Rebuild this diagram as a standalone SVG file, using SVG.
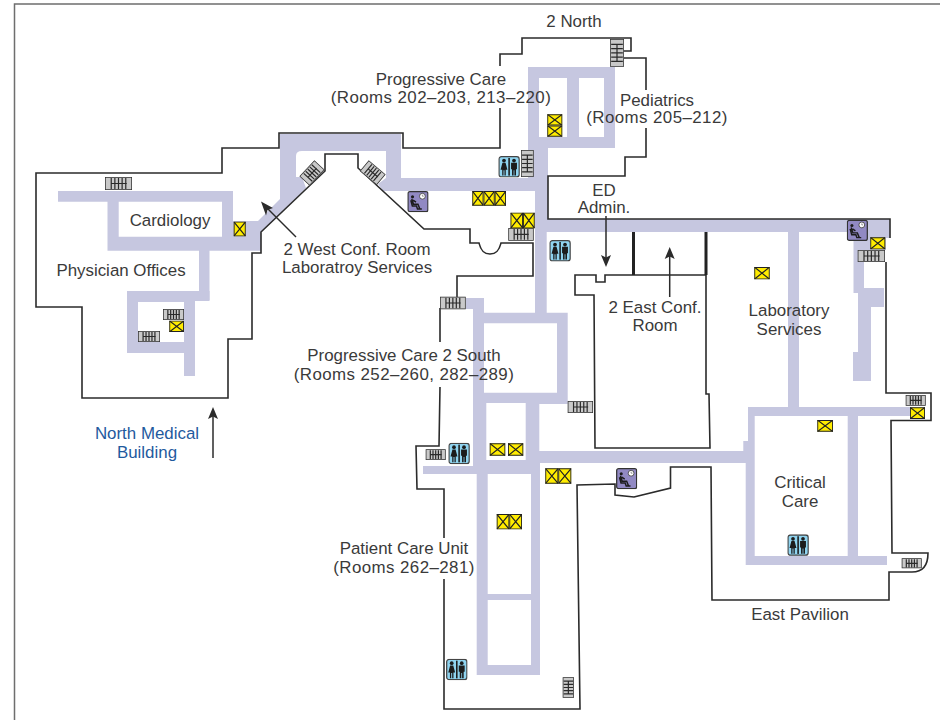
<svg xmlns="http://www.w3.org/2000/svg" width="940" height="720" viewBox="0 0 940 720">
<style>
.hall{fill:#c6c7e0;stroke:none}
.wall{fill:none;stroke:#2b2b2b;stroke-width:1.6}
.thick{fill:none;stroke:#222;stroke-width:3}
.frame{fill:none;stroke:#6e6e6e;stroke-width:1.5}
.arr{fill:none;stroke:#2b2b2b;stroke-width:1.5}
.head{fill:#2b2b2b}
text{font-family:"Liberation Sans",Arial,sans-serif;font-size:16.9px;fill:#3a3a3a;text-anchor:middle}
text.blue{fill:#1f5a9e}
text.rooms{letter-spacing:0.42px}
.sf{fill:#c9c9c9;stroke:#333;stroke-width:1.5;vector-effect:non-scaling-stroke}
.sl{fill:none;stroke:#2a2a2a;stroke-width:1.2;vector-effect:non-scaling-stroke}
.ef{fill:#ffec00;stroke:#222;stroke-width:1.8;vector-effect:non-scaling-stroke}
.ex{fill:none;stroke:#222;stroke-width:1.2;vector-effect:non-scaling-stroke}
.rf{fill:#8fd4f0;stroke:#444;stroke-width:1.3}
.wf{fill:#9189c3;stroke:#333;stroke-width:1.3}
.fig{fill:#1c1c1c;stroke:none}
.chair{fill:none;stroke:#1c1c1c;stroke-width:1.5}
</style>
<defs>
<symbol id="stairH" viewBox="0 0 26 12" preserveAspectRatio="none">
<rect class="sf" x="0" y="0" width="26" height="12"/>
<path class="sl" d="M6,6H21M6,1V11M9.5,1V11M13,1V11M16.5,1V11M20,1V11"/>
</symbol>
<symbol id="stairV" viewBox="0 0 12 26" preserveAspectRatio="none">
<rect class="sf" x="0" y="0" width="12" height="26"/>
<path class="sl" d="M6,5V21M1,5H11M1,9H11M1,13H11M1,17H11M1,21H11"/>
</symbol>
<symbol id="elev" viewBox="0 0 12 12" preserveAspectRatio="none">
<rect class="ef" x="0" y="0" width="12" height="12"/>
<path class="ex" d="M0,0L12,12M12,0L0,12"/>
</symbol>
<symbol id="rest" viewBox="0 0 22 22">
<rect class="rf" x="0.7" y="0.7" width="20.6" height="20.6" rx="2.5"/>
<rect class="fig" x="10.2" y="2" width="1.6" height="18"/>
<circle class="fig" cx="5.8" cy="4.6" r="1.9"/>
<path class="fig" d="M4.2,6.8H7.4L9.3,14H7.6V19.8H6.3V14.5H5.3V19.8H4V14H2.3Z"/>
<circle class="fig" cx="16" cy="4.6" r="1.9"/>
<path class="fig" d="M13,6.8H19V13.4H18V19.8H16.4V14.5H15.6V19.8H14V13.4H13Z"/>
</symbol>
<symbol id="wait" viewBox="0 0 22 22">
<rect class="wf" x="0.7" y="0.7" width="20.6" height="20.6" rx="2"/>
<circle cx="15.6" cy="5.4" r="3" fill="#fff" stroke="#333" stroke-width="0.8"/>
<path d="M15.6,3.8V5.4H17" fill="none" stroke="#333" stroke-width="0.5"/>
<circle class="fig" cx="5.4" cy="6" r="1.6"/>
<path class="chair" d="M4.6,8L6.4,13.6H11L13,18.5M3.6,9.5L5.2,15.5H9.5L10.5,18.5H15M6,9.5L9,11.5"/>
</symbol>
</defs>

<g id="frame"><path class="frame" d="M14.5,720V4H940"/></g>

<g id="hallways">
<path class="hall" d="M58,191H233V221H258L280,199V134H401V178H528V67H615V148H548V219H890V238H886V250H864V288H884V307H871V381H853V352H858V293H853.5V232H799V407H910V416H858V556H887V565H745.7V463H540V675H476.7V474H473V403H473V298H484V312.7H535V191H528V191H383L378,184L386,178V151H302Q296,151 296,156V177H302L306,188L261,232V250.7H107.5V201.7H58ZM118.7,201.7V236.7H222V201.7ZM539,78V137H567V78ZM579,78V137H604V78ZM546.7,232V312.7H567.7V404H539.3V451H743.3V441H748V407H788V232ZM484,323.3V392.7H557V323.3ZM486.3,403V460H525.7V403ZM754.7,416V556H847.7V416ZM487.7,474V594H531V474ZM487.7,600V665H531V600Z" fill-rule="evenodd"/>
<rect class="hall" x="199" y="250" width="10.5" height="50"/>
<path class="hall" d="M127,291H209.5V301H195V376H184V353H127ZM138,302V342H184V302Z" fill-rule="evenodd"/>
<rect class="hall" x="423" y="466" width="54" height="8"/>
<rect class="hall" x="466" y="298" width="8" height="11"/>
</g>

<g id="walls">
<path class="wall" d="M500,66V54H522V38H631V51H624M624,58H646V90M646,128V157H625V176H548V219H890V238M886,262V393H931V420.5H891L892,553H928Q928,572 912,572H889V600H712L711,467H670.5V488L634,497L615,495V484L577,485L580,709H444V579M444,538V489H417L416,446H439L440,387M440,342V308M457,297V276H533V243H501C499,251 496,254 490,254C484,254 481,251 479,243H470V229H424L358,168V154H325V171L261,232V253H252V339H228V398H82V307H36V173H222V148H279V133H403V148H500V108"/>
<path class="wall" d="M575,275V295H594L595,448H710L709,394H706V275H605V282H596V275Z"/>
<path class="thick" d="M633.5,232V275M706,232V275"/>
</g>

<g id="stairs">
<use href="#stairH" x="105" y="177" width="27" height="13"/>
<use href="#stairH" x="163" y="309" width="21" height="11"/>
<use href="#stairH" x="138" y="331" width="22" height="11"/>
<use href="#stairH" x="-11" y="-7" width="22" height="14" transform="translate(312,173) rotate(-47)"/>
<use href="#stairH" x="-11" y="-7" width="22" height="14" transform="translate(372.7,172.7) rotate(40)"/>
<use href="#stairV" x="521" y="150" width="12.7" height="27"/>
<use href="#stairH" x="508.3" y="228" width="25.4" height="12.7"/>
<use href="#stairV" x="610" y="39" width="14" height="27.7"/>
<use href="#stairH" x="857.7" y="250" width="27.3" height="12"/>
<use href="#stairH" x="440" y="296.7" width="25.7" height="12.6"/>
<use href="#stairH" x="567.7" y="401" width="25.3" height="12"/>
<use href="#stairH" x="425.7" y="449.3" width="20" height="10.7"/>
<use href="#stairH" x="905.7" y="395" width="20" height="10.7"/>
<use href="#stairH" x="901.7" y="558.3" width="20" height="10"/>
<use href="#stairV" x="562.7" y="677.3" width="11.3" height="20.4"/>
</g>

<g id="elevators">
<use href="#elev" x="233.7" y="221.7" width="12" height="14.6"/>
<use href="#elev" x="169.3" y="320.7" width="14.7" height="11.3"/>
<use href="#elev" x="547.3" y="114.3" width="15" height="11.2"/>
<use href="#elev" x="547.3" y="125.5" width="15" height="11.2"/>
<use href="#elev" x="472.3" y="191" width="11.2" height="14.7"/>
<use href="#elev" x="483.5" y="191" width="11.2" height="14.7"/>
<use href="#elev" x="494.7" y="191" width="11.3" height="14.7"/>
<use href="#elev" x="510.5" y="212.7" width="12.5" height="15.6"/>
<use href="#elev" x="523" y="212.7" width="11.7" height="15.6"/>
<use href="#elev" x="754.3" y="267" width="15.4" height="12.3"/>
<use href="#elev" x="870.3" y="237.3" width="15" height="12"/>
<use href="#elev" x="489.7" y="443.3" width="15.6" height="12.4"/>
<use href="#elev" x="508" y="443.3" width="15.3" height="12.4"/>
<use href="#elev" x="545.3" y="468.3" width="13" height="15.4"/>
<use href="#elev" x="558.3" y="468.3" width="13" height="15.4"/>
<use href="#elev" x="496.7" y="514" width="12.6" height="15.3"/>
<use href="#elev" x="509.3" y="514" width="12.7" height="15.3"/>
<use href="#elev" x="817.3" y="420" width="15.7" height="11.7"/>
<use href="#elev" x="910" y="407.3" width="15" height="11.7"/>
</g>

<g id="restrooms">
<use href="#rest" x="498.3" y="156" width="21.6" height="21.6"/>
<use href="#rest" x="549.3" y="240" width="21.6" height="21.6"/>
<use href="#rest" x="448.3" y="442.7" width="21.6" height="21.6"/>
<use href="#rest" x="787.3" y="534.3" width="21.6" height="21.6"/>
<use href="#rest" x="446" y="658.7" width="21.6" height="21.6"/>
</g>

<g id="waiting">
<use href="#wait" x="407.3" y="191" width="21.3" height="21.3"/>
<use href="#wait" x="846.7" y="219.7" width="21.3" height="21.3"/>
<use href="#wait" x="616" y="468" width="21.3" height="21.3"/>
</g>

<g id="connectors">
<path class="arr" d="M296,237L266,207"/>
<path class="head" d="M261,201.5L273,208L267.5,210L266,215.5Z"/>
<path class="arr" d="M213,458V414"/>
<path class="head" d="M213,407L218,419L213,416.5L208,419Z"/>
<path class="arr" d="M606,216V260"/>
<path class="head" d="M606,267L601,255L606,257.5L611,255Z"/>
<path class="arr" d="M669.7,297V254"/>
<path class="head" d="M669.7,247L674.7,259L669.7,256.5L664.7,259Z"/>
</g>

<g id="labels">
<text x="574" y="27">2 North</text>
<text x="441" y="85">Progressive Care</text>
<text class="rooms" x="441" y="103">(Rooms 202–203, 213–220)</text>
<text x="657" y="106">Pediatrics</text>
<text class="rooms" x="657" y="123">(Rooms 205–212)</text>
<text x="604" y="196">ED</text>
<text x="604" y="213">Admin.</text>
<text x="170" y="226">Cardiology</text>
<text x="121" y="276">Physician Offices</text>
<text x="357" y="255">2 West Conf. Room</text>
<text x="357" y="273">Laboratroy Services</text>
<text x="655" y="313">2 East Conf.</text>
<text x="655" y="331">Room</text>
<text x="789" y="316">Laboratory</text>
<text x="789" y="335">Services</text>
<text x="404" y="361">Progressive Care 2 South</text>
<text class="rooms" x="404" y="380">(Rooms 252–260, 282–289)</text>
<text class="blue" x="147" y="439">North Medical</text>
<text class="blue" x="147" y="458">Building</text>
<text x="800" y="488">Critical</text>
<text x="800" y="507">Care</text>
<text x="800" y="620">East Pavilion</text>
<text x="404" y="554">Patient Care Unit</text>
<text class="rooms" x="404" y="573">(Rooms 262–281)</text>
</g>
</svg>
